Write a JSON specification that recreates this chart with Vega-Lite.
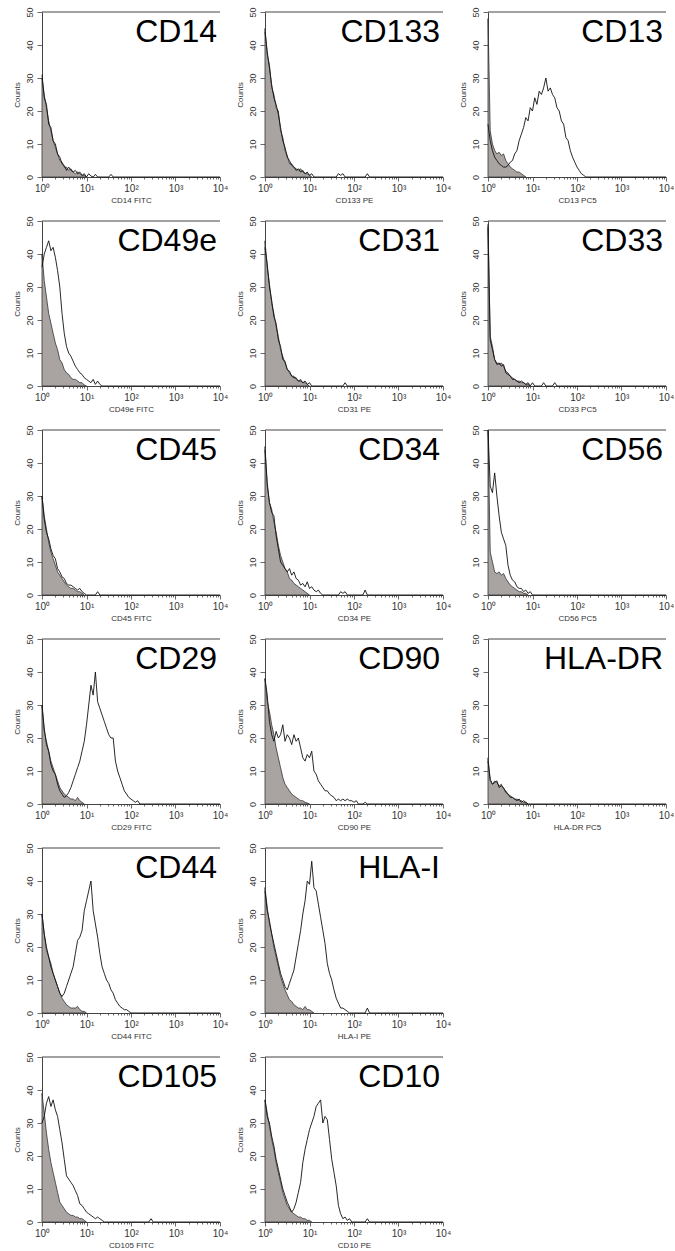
{
"$schema":"https://vega.github.io/schema/vega-lite/v6.json",
"background":"white",
"padding":{"left":13,"top":6,"right":0,"bottom":0},
"columns":3,
"spacing":{"row":44,"column":45},
"bounds":"flush",
"datasets":{
"CD14c":[{"x":1,"y":30},{"x":1.122,"y":25},{"x":1.259,"y":21},{"x":1.413,"y":17},{"x":1.585,"y":14},{"x":1.778,"y":11},{"x":1.995,"y":9},{"x":2.239,"y":7},{"x":2.512,"y":5},{"x":2.818,"y":4.5},{"x":3.162,"y":3},{"x":3.548,"y":3},{"x":3.981,"y":2},{"x":4.467,"y":2.5},{"x":5.012,"y":1.5},{"x":5.623,"y":1},{"x":6.31,"y":1.5},{"x":7.079,"y":1},{"x":7.943,"y":0.5},{"x":8.913,"y":0.5},{"x":10,"y":0}],
"CD14m":[{"x":1,"y":31},{"x":1.122,"y":24},{"x":1.259,"y":22},{"x":1.413,"y":16},{"x":1.585,"y":15},{"x":1.778,"y":11},{"x":1.995,"y":10},{"x":2.239,"y":7},{"x":2.512,"y":6},{"x":2.818,"y":4},{"x":3.162,"y":3.5},{"x":3.548,"y":2},{"x":3.981,"y":3},{"x":4.467,"y":2},{"x":5.012,"y":1.5},{"x":5.623,"y":2},{"x":6.31,"y":1},{"x":7.079,"y":1.5},{"x":7.943,"y":0.5},{"x":8.913,"y":1},{"x":10,"y":0},{"x":11.22,"y":1},{"x":12.59,"y":0.3},{"x":14.13,"y":0},{"x":15.85,"y":0.8},{"x":17.78,"y":0},{"x":31.62,"y":0},{"x":35.48,"y":0.8},{"x":39.81,"y":0},{"x":10000,"y":0}],
"CD133c":[{"x":1,"y":45},{"x":1.122,"y":37},{"x":1.259,"y":34},{"x":1.413,"y":27},{"x":1.585,"y":25},{"x":1.778,"y":21},{"x":1.995,"y":20},{"x":2.239,"y":14},{"x":2.512,"y":12},{"x":2.818,"y":8},{"x":3.162,"y":6.5},{"x":3.548,"y":4},{"x":3.981,"y":4},{"x":4.467,"y":3},{"x":5.012,"y":2.5},{"x":5.623,"y":2},{"x":6.31,"y":2.5},{"x":7.079,"y":1.5},{"x":7.943,"y":1},{"x":8.913,"y":1},{"x":10,"y":0.5},{"x":11.22,"y":0}],
"CD133m":[{"x":1,"y":44},{"x":1.122,"y":38},{"x":1.259,"y":33},{"x":1.413,"y":28},{"x":1.585,"y":24},{"x":1.778,"y":22},{"x":1.995,"y":19},{"x":2.239,"y":15},{"x":2.512,"y":11},{"x":2.818,"y":9},{"x":3.162,"y":6},{"x":3.548,"y":5},{"x":3.981,"y":3.5},{"x":4.467,"y":3},{"x":5.012,"y":2},{"x":5.623,"y":2.5},{"x":6.31,"y":1.5},{"x":7.079,"y":2},{"x":7.943,"y":1},{"x":8.913,"y":1.5},{"x":10,"y":0.5},{"x":11.22,"y":1},{"x":12.59,"y":0},{"x":39.81,"y":0},{"x":44.67,"y":1},{"x":50.12,"y":0.5},{"x":56.23,"y":1},{"x":63.1,"y":0},{"x":177.8,"y":0},{"x":199.5,"y":1},{"x":223.9,"y":0},{"x":10000,"y":0}],
"CD13c":[{"x":1,"y":48},{"x":1.122,"y":14},{"x":1.259,"y":10},{"x":1.413,"y":8},{"x":1.585,"y":7},{"x":1.778,"y":7.5},{"x":1.995,"y":6.5},{"x":2.239,"y":7},{"x":2.512,"y":5},{"x":2.818,"y":4},{"x":3.162,"y":3},{"x":3.548,"y":2.5},{"x":3.981,"y":2},{"x":4.467,"y":1.5},{"x":5.012,"y":1.5},{"x":5.623,"y":1},{"x":6.31,"y":0.5},{"x":7.079,"y":0}],
"CD13m":[{"x":1,"y":16},{"x":1.122,"y":11},{"x":1.259,"y":8},{"x":1.413,"y":6},{"x":1.585,"y":5},{"x":1.778,"y":4},{"x":1.995,"y":3.5},{"x":2.239,"y":3},{"x":2.512,"y":3},{"x":2.818,"y":3.5},{"x":3.162,"y":4.5},{"x":3.548,"y":5},{"x":3.981,"y":7},{"x":4.467,"y":8},{"x":5.012,"y":11},{"x":5.623,"y":13},{"x":6.31,"y":15},{"x":7.079,"y":18},{"x":7.943,"y":17},{"x":8.913,"y":21},{"x":10,"y":20},{"x":11.22,"y":24},{"x":12.59,"y":22},{"x":14.13,"y":26},{"x":15.85,"y":25},{"x":17.78,"y":27},{"x":19.95,"y":30},{"x":22.39,"y":26},{"x":25.12,"y":27},{"x":28.18,"y":25},{"x":31.62,"y":24},{"x":35.48,"y":21},{"x":39.81,"y":20},{"x":44.67,"y":17},{"x":50.12,"y":16},{"x":56.23,"y":12},{"x":63.1,"y":11},{"x":70.79,"y":8},{"x":79.43,"y":6},{"x":89.13,"y":4.5},{"x":100,"y":3},{"x":112.2,"y":2},{"x":125.9,"y":1},{"x":141.3,"y":0.5},{"x":158.5,"y":0},{"x":10000,"y":0}],
"CD49ec":[{"x":1,"y":40},{"x":1.122,"y":32},{"x":1.259,"y":27},{"x":1.413,"y":22},{"x":1.585,"y":19},{"x":1.778,"y":16},{"x":1.995,"y":13},{"x":2.239,"y":11},{"x":2.512,"y":8},{"x":2.818,"y":7},{"x":3.162,"y":5},{"x":3.548,"y":4},{"x":3.981,"y":3.5},{"x":4.467,"y":2.5},{"x":5.012,"y":2},{"x":5.623,"y":2},{"x":6.31,"y":1.5},{"x":7.079,"y":1},{"x":7.943,"y":1},{"x":8.913,"y":0.3},{"x":10,"y":0}],
"CD49em":[{"x":1,"y":36},{"x":1.122,"y":40},{"x":1.259,"y":42},{"x":1.413,"y":44},{"x":1.585,"y":41},{"x":1.778,"y":42},{"x":1.995,"y":39},{"x":2.239,"y":35},{"x":2.512,"y":30},{"x":2.818,"y":22},{"x":3.162,"y":16},{"x":3.548,"y":12},{"x":3.981,"y":10},{"x":4.467,"y":9},{"x":5.012,"y":7.5},{"x":5.623,"y":6},{"x":6.31,"y":5},{"x":7.079,"y":4},{"x":7.943,"y":3.5},{"x":8.913,"y":2.5},{"x":10,"y":2},{"x":11.22,"y":1.5},{"x":12.59,"y":1},{"x":14.13,"y":2},{"x":15.85,"y":0.5},{"x":17.78,"y":1.5},{"x":19.95,"y":0.5},{"x":22.39,"y":0},{"x":10000,"y":0}],
"CD31c":[{"x":1,"y":44},{"x":1.122,"y":36},{"x":1.259,"y":31},{"x":1.413,"y":25},{"x":1.585,"y":22},{"x":1.778,"y":18},{"x":1.995,"y":15},{"x":2.239,"y":11},{"x":2.512,"y":9},{"x":2.818,"y":7},{"x":3.162,"y":5},{"x":3.548,"y":4},{"x":3.981,"y":3},{"x":4.467,"y":3},{"x":5.012,"y":2},{"x":5.623,"y":1.5},{"x":6.31,"y":2},{"x":7.079,"y":1},{"x":7.943,"y":1},{"x":8.913,"y":0.5},{"x":10,"y":0}],
"CD31m":[{"x":1,"y":42},{"x":1.122,"y":37},{"x":1.259,"y":30},{"x":1.413,"y":26},{"x":1.585,"y":21},{"x":1.778,"y":19},{"x":1.995,"y":14},{"x":2.239,"y":12},{"x":2.512,"y":8},{"x":2.818,"y":7.5},{"x":3.162,"y":5},{"x":3.548,"y":4.5},{"x":3.981,"y":3},{"x":4.467,"y":2.5},{"x":5.012,"y":2.5},{"x":5.623,"y":1.5},{"x":6.31,"y":1.5},{"x":7.079,"y":1},{"x":7.943,"y":1.5},{"x":8.913,"y":0.5},{"x":10,"y":1},{"x":11.22,"y":0},{"x":56.23,"y":0},{"x":63.1,"y":1},{"x":70.79,"y":0},{"x":10000,"y":0}],
"CD33c":[{"x":1,"y":49},{"x":1.122,"y":15},{"x":1.259,"y":12},{"x":1.413,"y":8},{"x":1.585,"y":7},{"x":1.778,"y":6.5},{"x":1.995,"y":7},{"x":2.239,"y":6},{"x":2.512,"y":4.5},{"x":2.818,"y":4},{"x":3.162,"y":3},{"x":3.548,"y":2.5},{"x":3.981,"y":2},{"x":4.467,"y":1.5},{"x":5.012,"y":1.5},{"x":5.623,"y":1},{"x":6.31,"y":1},{"x":7.079,"y":0.5},{"x":7.943,"y":0.5},{"x":8.913,"y":0}],
"CD33m":[{"x":1,"y":48},{"x":1.122,"y":14},{"x":1.259,"y":11},{"x":1.413,"y":8},{"x":1.585,"y":6.5},{"x":1.778,"y":7},{"x":1.995,"y":6},{"x":2.239,"y":6.5},{"x":2.512,"y":4},{"x":2.818,"y":3.5},{"x":3.162,"y":3},{"x":3.548,"y":2},{"x":3.981,"y":2},{"x":4.467,"y":1.5},{"x":5.012,"y":1},{"x":5.623,"y":1.5},{"x":6.31,"y":1},{"x":7.079,"y":0.5},{"x":7.943,"y":1},{"x":8.913,"y":0},{"x":10,"y":1},{"x":11.22,"y":0},{"x":15.85,"y":0},{"x":17.78,"y":1},{"x":19.95,"y":0},{"x":28.18,"y":0},{"x":31.62,"y":1},{"x":35.48,"y":0},{"x":10000,"y":0}],
"CD45c":[{"x":1,"y":30},{"x":1.122,"y":24},{"x":1.259,"y":20},{"x":1.413,"y":16},{"x":1.585,"y":13},{"x":1.778,"y":11},{"x":1.995,"y":9},{"x":2.239,"y":7},{"x":2.512,"y":6},{"x":2.818,"y":5},{"x":3.162,"y":4},{"x":3.548,"y":3},{"x":3.981,"y":2.5},{"x":4.467,"y":2},{"x":5.012,"y":2},{"x":5.623,"y":1.5},{"x":6.31,"y":1},{"x":7.079,"y":1},{"x":7.943,"y":0.5},{"x":8.913,"y":0}],
"CD45m":[{"x":1,"y":30},{"x":1.122,"y":23},{"x":1.259,"y":19},{"x":1.413,"y":17},{"x":1.585,"y":14},{"x":1.778,"y":12},{"x":1.995,"y":11},{"x":2.239,"y":8},{"x":2.512,"y":7},{"x":2.818,"y":5.5},{"x":3.162,"y":5},{"x":3.548,"y":3.5},{"x":3.981,"y":3},{"x":4.467,"y":3},{"x":5.012,"y":2.5},{"x":5.623,"y":2},{"x":6.31,"y":1.5},{"x":7.079,"y":2},{"x":7.943,"y":1},{"x":8.913,"y":0.5},{"x":10,"y":0},{"x":15.85,"y":0},{"x":17.78,"y":1},{"x":19.95,"y":0},{"x":10000,"y":0}],
"CD34c":[{"x":1,"y":45},{"x":1.122,"y":33},{"x":1.259,"y":28},{"x":1.413,"y":26},{"x":1.585,"y":22},{"x":1.778,"y":19},{"x":1.995,"y":15},{"x":2.239,"y":12},{"x":2.512,"y":10},{"x":2.818,"y":8},{"x":3.162,"y":7},{"x":3.548,"y":5},{"x":3.981,"y":4.5},{"x":4.467,"y":3.5},{"x":5.012,"y":3},{"x":5.623,"y":2.5},{"x":6.31,"y":2},{"x":7.079,"y":1.5},{"x":7.943,"y":1},{"x":8.913,"y":0.5},{"x":10,"y":0}],
"CD34m":[{"x":1,"y":44},{"x":1.122,"y":34},{"x":1.259,"y":28},{"x":1.413,"y":25},{"x":1.585,"y":24},{"x":1.778,"y":18},{"x":1.995,"y":14},{"x":2.239,"y":10},{"x":2.512,"y":9},{"x":2.818,"y":8},{"x":3.162,"y":7},{"x":3.548,"y":8},{"x":3.981,"y":6},{"x":4.467,"y":7},{"x":5.012,"y":5},{"x":5.623,"y":4.5},{"x":6.31,"y":3},{"x":7.079,"y":3.5},{"x":7.943,"y":2.5},{"x":8.913,"y":4},{"x":10,"y":2},{"x":11.22,"y":2.5},{"x":12.59,"y":1.5},{"x":14.13,"y":1},{"x":15.85,"y":1.5},{"x":17.78,"y":0.5},{"x":19.95,"y":0},{"x":44.67,"y":0},{"x":50.12,"y":1},{"x":56.23,"y":0.5},{"x":63.1,"y":1},{"x":70.79,"y":0},{"x":158.5,"y":0},{"x":177.8,"y":1.5},{"x":199.5,"y":0},{"x":10000,"y":0}],
"CD56c":[{"x":1,"y":50},{"x":1.122,"y":13},{"x":1.259,"y":10},{"x":1.413,"y":7},{"x":1.585,"y":6.5},{"x":1.778,"y":7},{"x":1.995,"y":6},{"x":2.239,"y":6.5},{"x":2.512,"y":5},{"x":2.818,"y":4},{"x":3.162,"y":3},{"x":3.548,"y":2.5},{"x":3.981,"y":2},{"x":4.467,"y":1.5},{"x":5.012,"y":1},{"x":5.623,"y":1},{"x":6.31,"y":0.5},{"x":7.079,"y":0.5},{"x":7.943,"y":0}],
"CD56m":[{"x":1,"y":50},{"x":1.122,"y":33},{"x":1.259,"y":31},{"x":1.413,"y":37},{"x":1.585,"y":30},{"x":1.778,"y":24},{"x":1.995,"y":19},{"x":2.239,"y":17},{"x":2.512,"y":15},{"x":2.818,"y":9},{"x":3.162,"y":6},{"x":3.548,"y":4.5},{"x":3.981,"y":4},{"x":4.467,"y":2.5},{"x":5.012,"y":2},{"x":5.623,"y":2},{"x":6.31,"y":1},{"x":7.079,"y":1.5},{"x":7.943,"y":0.5},{"x":8.913,"y":1},{"x":10,"y":0},{"x":10000,"y":0}],
"CD29c":[{"x":1,"y":30},{"x":1.122,"y":22},{"x":1.259,"y":19},{"x":1.413,"y":16},{"x":1.585,"y":13},{"x":1.778,"y":11},{"x":1.995,"y":9},{"x":2.239,"y":7},{"x":2.512,"y":5},{"x":2.818,"y":4},{"x":3.162,"y":3},{"x":3.548,"y":2.5},{"x":3.981,"y":2},{"x":4.467,"y":1.5},{"x":5.012,"y":1.5},{"x":5.623,"y":1},{"x":6.31,"y":2},{"x":7.079,"y":1},{"x":7.943,"y":0.5},{"x":8.913,"y":0}],
"CD29m":[{"x":1,"y":30},{"x":1.122,"y":23},{"x":1.259,"y":18},{"x":1.413,"y":16},{"x":1.585,"y":12},{"x":1.778,"y":10},{"x":1.995,"y":9},{"x":2.239,"y":6},{"x":2.512,"y":4},{"x":2.818,"y":3},{"x":3.162,"y":2},{"x":3.548,"y":2.5},{"x":3.981,"y":3.5},{"x":4.467,"y":5},{"x":5.012,"y":7},{"x":5.623,"y":9},{"x":6.31,"y":11},{"x":7.079,"y":13},{"x":7.943,"y":16},{"x":8.913,"y":19},{"x":10,"y":24},{"x":11.22,"y":30},{"x":12.59,"y":36},{"x":14.13,"y":33},{"x":15.85,"y":40},{"x":17.78,"y":31},{"x":19.95,"y":29},{"x":22.39,"y":27},{"x":25.12,"y":25},{"x":28.18,"y":23},{"x":31.62,"y":21},{"x":35.48,"y":20},{"x":39.81,"y":20},{"x":44.67,"y":13},{"x":50.12,"y":10},{"x":56.23,"y":8},{"x":63.1,"y":6},{"x":70.79,"y":4},{"x":79.43,"y":3},{"x":89.13,"y":2},{"x":100,"y":1.5},{"x":112.2,"y":1},{"x":125.9,"y":0.5},{"x":141.3,"y":1},{"x":158.5,"y":0},{"x":10000,"y":0}],
"CD90c":[{"x":1,"y":38},{"x":1.122,"y":31},{"x":1.259,"y":28},{"x":1.413,"y":24},{"x":1.585,"y":21},{"x":1.778,"y":17},{"x":1.995,"y":14},{"x":2.239,"y":11},{"x":2.512,"y":8},{"x":2.818,"y":6},{"x":3.162,"y":5},{"x":3.548,"y":4},{"x":3.981,"y":3},{"x":4.467,"y":2.5},{"x":5.012,"y":2},{"x":5.623,"y":1.5},{"x":6.31,"y":1},{"x":7.079,"y":1},{"x":7.943,"y":0.5},{"x":8.913,"y":0.3},{"x":10,"y":0}],
"CD90m":[{"x":1,"y":38},{"x":1.122,"y":33},{"x":1.259,"y":25},{"x":1.413,"y":21},{"x":1.585,"y":19},{"x":1.778,"y":22},{"x":1.995,"y":20},{"x":2.239,"y":21},{"x":2.512,"y":24},{"x":2.818,"y":19},{"x":3.162,"y":21},{"x":3.548,"y":20},{"x":3.981,"y":18},{"x":4.467,"y":21},{"x":5.012,"y":19},{"x":5.623,"y":20},{"x":6.31,"y":17},{"x":7.079,"y":14},{"x":7.943,"y":13},{"x":8.913,"y":15},{"x":10,"y":14},{"x":11.22,"y":16},{"x":12.59,"y":10},{"x":14.13,"y":9},{"x":15.85,"y":7},{"x":17.78,"y":6},{"x":19.95,"y":5},{"x":22.39,"y":4},{"x":25.12,"y":4},{"x":28.18,"y":3},{"x":31.62,"y":2.5},{"x":35.48,"y":2},{"x":39.81,"y":1},{"x":44.67,"y":1.5},{"x":50.12,"y":1},{"x":56.23,"y":1.5},{"x":63.1,"y":1},{"x":70.79,"y":1.5},{"x":79.43,"y":1},{"x":89.13,"y":1},{"x":100,"y":0.5},{"x":112.2,"y":1},{"x":125.9,"y":0},{"x":158.5,"y":0},{"x":177.8,"y":0.5},{"x":199.5,"y":0},{"x":10000,"y":0}],
"HLADRc":[{"x":1,"y":14},{"x":1.122,"y":7},{"x":1.259,"y":6},{"x":1.413,"y":7},{"x":1.585,"y":6.5},{"x":1.778,"y":5.5},{"x":1.995,"y":6},{"x":2.239,"y":4.5},{"x":2.512,"y":4},{"x":2.818,"y":3},{"x":3.162,"y":2.5},{"x":3.548,"y":2},{"x":3.981,"y":1.5},{"x":4.467,"y":1.5},{"x":5.012,"y":1},{"x":5.623,"y":1},{"x":6.31,"y":0.5},{"x":7.079,"y":0.5},{"x":7.943,"y":0}],
"HLADRm":[{"x":1,"y":13},{"x":1.122,"y":7.5},{"x":1.259,"y":6},{"x":1.413,"y":6.5},{"x":1.585,"y":7},{"x":1.778,"y":5},{"x":1.995,"y":5.5},{"x":2.239,"y":5},{"x":2.512,"y":3.5},{"x":2.818,"y":3},{"x":3.162,"y":2},{"x":3.548,"y":2},{"x":3.981,"y":1.5},{"x":4.467,"y":1},{"x":5.012,"y":1.5},{"x":5.623,"y":0.5},{"x":6.31,"y":1},{"x":7.079,"y":0.5},{"x":7.943,"y":0},{"x":10000,"y":0}],
"CD44c":[{"x":1,"y":30},{"x":1.122,"y":24},{"x":1.259,"y":19},{"x":1.413,"y":17},{"x":1.585,"y":15},{"x":1.778,"y":12},{"x":1.995,"y":10},{"x":2.239,"y":8},{"x":2.512,"y":6},{"x":2.818,"y":4.5},{"x":3.162,"y":3.5},{"x":3.548,"y":2.5},{"x":3.981,"y":2},{"x":4.467,"y":1.5},{"x":5.012,"y":1.5},{"x":5.623,"y":1.5},{"x":6.31,"y":2},{"x":7.079,"y":1},{"x":7.943,"y":0.5},{"x":8.913,"y":0.5},{"x":10,"y":0}],
"CD44m":[{"x":1,"y":30},{"x":1.122,"y":24},{"x":1.259,"y":20},{"x":1.413,"y":17},{"x":1.585,"y":14},{"x":1.778,"y":12},{"x":1.995,"y":10},{"x":2.239,"y":8},{"x":2.512,"y":6},{"x":2.818,"y":5},{"x":3.162,"y":6},{"x":3.548,"y":8},{"x":3.981,"y":10},{"x":4.467,"y":12},{"x":5.012,"y":14},{"x":5.623,"y":18},{"x":6.31,"y":22},{"x":7.079,"y":23},{"x":7.943,"y":25},{"x":8.913,"y":31},{"x":10,"y":34},{"x":11.22,"y":37},{"x":12.59,"y":40},{"x":14.13,"y":31},{"x":15.85,"y":27},{"x":17.78,"y":23},{"x":19.95,"y":18},{"x":22.39,"y":14},{"x":25.12,"y":12},{"x":28.18,"y":10},{"x":31.62,"y":9},{"x":35.48,"y":7},{"x":39.81,"y":6},{"x":44.67,"y":4},{"x":50.12,"y":3},{"x":56.23,"y":2},{"x":63.1,"y":1.5},{"x":70.79,"y":1},{"x":79.43,"y":1},{"x":89.13,"y":0.5},{"x":100,"y":0},{"x":10000,"y":0}],
"HLAIc":[{"x":1,"y":38},{"x":1.122,"y":32},{"x":1.259,"y":27},{"x":1.413,"y":24},{"x":1.585,"y":20},{"x":1.778,"y":17},{"x":1.995,"y":14},{"x":2.239,"y":11},{"x":2.512,"y":9},{"x":2.818,"y":7},{"x":3.162,"y":5.5},{"x":3.548,"y":4},{"x":3.981,"y":3.5},{"x":4.467,"y":2.5},{"x":5.012,"y":2},{"x":5.623,"y":1.5},{"x":6.31,"y":1.5},{"x":7.079,"y":1},{"x":7.943,"y":2},{"x":8.913,"y":1},{"x":10,"y":1},{"x":11.22,"y":0.5},{"x":12.59,"y":0}],
"HLAIm":[{"x":1,"y":37},{"x":1.122,"y":31},{"x":1.259,"y":28},{"x":1.413,"y":24},{"x":1.585,"y":21},{"x":1.778,"y":18},{"x":1.995,"y":15},{"x":2.239,"y":12},{"x":2.512,"y":10},{"x":2.818,"y":8},{"x":3.162,"y":7},{"x":3.548,"y":9},{"x":3.981,"y":11},{"x":4.467,"y":13},{"x":5.012,"y":17},{"x":5.623,"y":21},{"x":6.31,"y":25},{"x":7.079,"y":30},{"x":7.943,"y":34},{"x":8.913,"y":40},{"x":10,"y":39},{"x":11.22,"y":46},{"x":12.59,"y":38},{"x":14.13,"y":37},{"x":15.85,"y":33},{"x":17.78,"y":29},{"x":19.95,"y":25},{"x":22.39,"y":21},{"x":25.12,"y":15},{"x":28.18,"y":12},{"x":31.62,"y":10},{"x":35.48,"y":7},{"x":39.81,"y":4.5},{"x":44.67,"y":3},{"x":50.12,"y":1.5},{"x":56.23,"y":1.5},{"x":63.1,"y":1},{"x":70.79,"y":0.5},{"x":79.43,"y":0},{"x":177.8,"y":0},{"x":199.5,"y":1.5},{"x":223.9,"y":0},{"x":10000,"y":0}],
"CD105c":[{"x":1,"y":39},{"x":1.122,"y":33},{"x":1.259,"y":27},{"x":1.413,"y":22},{"x":1.585,"y":18},{"x":1.778,"y":15},{"x":1.995,"y":12},{"x":2.239,"y":9},{"x":2.512,"y":6},{"x":2.818,"y":5},{"x":3.162,"y":4},{"x":3.548,"y":3},{"x":3.981,"y":2.5},{"x":4.467,"y":2},{"x":5.012,"y":2},{"x":5.623,"y":1.5},{"x":6.31,"y":1.5},{"x":7.079,"y":1},{"x":7.943,"y":1},{"x":8.913,"y":0.5},{"x":10,"y":0}],
"CD105m":[{"x":1,"y":30},{"x":1.122,"y":32},{"x":1.259,"y":36},{"x":1.413,"y":38},{"x":1.585,"y":35},{"x":1.778,"y":37},{"x":1.995,"y":34},{"x":2.239,"y":32},{"x":2.512,"y":28},{"x":2.818,"y":24},{"x":3.162,"y":19},{"x":3.548,"y":14},{"x":3.981,"y":13},{"x":4.467,"y":12},{"x":5.012,"y":11},{"x":5.623,"y":9.5},{"x":6.31,"y":8},{"x":7.079,"y":5.5},{"x":7.943,"y":5},{"x":8.913,"y":4},{"x":10,"y":3},{"x":11.22,"y":2.5},{"x":12.59,"y":2},{"x":14.13,"y":1.5},{"x":15.85,"y":1},{"x":17.78,"y":1.5},{"x":19.95,"y":1},{"x":22.39,"y":0.5},{"x":25.12,"y":0},{"x":251.2,"y":0},{"x":281.8,"y":1},{"x":316.2,"y":0},{"x":10000,"y":0}],
"CD10c":[{"x":1,"y":37},{"x":1.122,"y":33},{"x":1.259,"y":29},{"x":1.413,"y":25},{"x":1.585,"y":22},{"x":1.778,"y":18},{"x":1.995,"y":15},{"x":2.239,"y":12},{"x":2.512,"y":9},{"x":2.818,"y":7},{"x":3.162,"y":5},{"x":3.548,"y":4},{"x":3.981,"y":3},{"x":4.467,"y":2.5},{"x":5.012,"y":2},{"x":5.623,"y":1.5},{"x":6.31,"y":1.5},{"x":7.079,"y":1},{"x":7.943,"y":1},{"x":8.913,"y":0.5},{"x":10,"y":0.5},{"x":11.22,"y":0}],
"CD10m":[{"x":1,"y":37},{"x":1.122,"y":32},{"x":1.259,"y":30},{"x":1.413,"y":26},{"x":1.585,"y":23},{"x":1.778,"y":19},{"x":1.995,"y":16},{"x":2.239,"y":13},{"x":2.512,"y":10},{"x":2.818,"y":8},{"x":3.162,"y":6},{"x":3.548,"y":4.5},{"x":3.981,"y":3},{"x":4.467,"y":4},{"x":5.012,"y":6},{"x":5.623,"y":9},{"x":6.31,"y":12},{"x":7.079,"y":18},{"x":7.943,"y":22},{"x":8.913,"y":25},{"x":10,"y":28},{"x":11.22,"y":30},{"x":12.59,"y":32},{"x":14.13,"y":35},{"x":15.85,"y":36},{"x":17.78,"y":37},{"x":19.95,"y":30},{"x":22.39,"y":32},{"x":25.12,"y":31},{"x":28.18,"y":25},{"x":31.62,"y":19},{"x":35.48,"y":15},{"x":39.81,"y":11},{"x":44.67,"y":5},{"x":50.12,"y":2.5},{"x":56.23,"y":1},{"x":63.1,"y":1.5},{"x":70.79,"y":0.5},{"x":79.43,"y":1},{"x":89.13,"y":0},{"x":177.8,"y":0},{"x":199.5,"y":1},{"x":223.9,"y":0},{"x":10000,"y":0}]
},
"concat":[
{"width":178,"height":165,"layer":[
{"data":{"name":"CD14c"},"mark":{"type":"area","color":"#a9a4a1","stroke":"#333333","strokeWidth":0.8},"encoding":{"x":{"field":"x","type":"quantitative","scale":{"type":"log","domain":[1,10000]},"axis":{"title":"CD14 FITC","tickSize":{"condition":{"test":"indexof([1,10,100,1000,10000],datum.value)>=0","value":4},"value":2}}},"y":{"field":"y","type":"quantitative","scale":{"domain":[0,50]},"axis":{"title":"Counts","tickSize":{"condition":{"test":"datum.value%10==0","value":5},"value":2.5}}}}},
{"data":{"name":"CD14m"},"mark":{"type":"line","color":"#111111","strokeWidth":0.9},"encoding":{"x":{"field":"x","type":"quantitative","scale":{"type":"log","domain":[1,10000]}},"y":{"field":"y","type":"quantitative","scale":{"domain":[0,50]}}}},
{"data":{"values":[{}]},"mark":{"type":"rule","color":"#444444","strokeWidth":1},"encoding":{"y":{"datum":50,"type":"quantitative","scale":{"domain":[0,50]}}}},
{"data":{"values":[{}]},"mark":{"type":"text","text":"CD14","font":"Liberation Sans","fontSize":32,"align":"right","baseline":"alphabetic","dx":-3,"dy":30,"color":"#000000"},"encoding":{"x":{"datum":10000,"type":"quantitative","scale":{"type":"log","domain":[1,10000]}},"y":{"datum":50,"type":"quantitative","scale":{"domain":[0,50]}}}}
]},
{"width":178,"height":165,"layer":[
{"data":{"name":"CD133c"},"mark":{"type":"area","color":"#a9a4a1","stroke":"#333333","strokeWidth":0.8},"encoding":{"x":{"field":"x","type":"quantitative","scale":{"type":"log","domain":[1,10000]},"axis":{"title":"CD133 PE","tickSize":{"condition":{"test":"indexof([1,10,100,1000,10000],datum.value)>=0","value":4},"value":2}}},"y":{"field":"y","type":"quantitative","scale":{"domain":[0,50]},"axis":{"title":"Counts","tickSize":{"condition":{"test":"datum.value%10==0","value":5},"value":2.5}}}}},
{"data":{"name":"CD133m"},"mark":{"type":"line","color":"#111111","strokeWidth":0.9},"encoding":{"x":{"field":"x","type":"quantitative","scale":{"type":"log","domain":[1,10000]}},"y":{"field":"y","type":"quantitative","scale":{"domain":[0,50]}}}},
{"data":{"values":[{}]},"mark":{"type":"rule","color":"#444444","strokeWidth":1},"encoding":{"y":{"datum":50,"type":"quantitative","scale":{"domain":[0,50]}}}},
{"data":{"values":[{}]},"mark":{"type":"text","text":"CD133","font":"Liberation Sans","fontSize":32,"align":"right","baseline":"alphabetic","dx":-3,"dy":30,"color":"#000000"},"encoding":{"x":{"datum":10000,"type":"quantitative","scale":{"type":"log","domain":[1,10000]}},"y":{"datum":50,"type":"quantitative","scale":{"domain":[0,50]}}}}
]},
{"width":178,"height":165,"layer":[
{"data":{"name":"CD13c"},"mark":{"type":"area","color":"#a9a4a1","stroke":"#333333","strokeWidth":0.8},"encoding":{"x":{"field":"x","type":"quantitative","scale":{"type":"log","domain":[1,10000]},"axis":{"title":"CD13 PC5","tickSize":{"condition":{"test":"indexof([1,10,100,1000,10000],datum.value)>=0","value":4},"value":2}}},"y":{"field":"y","type":"quantitative","scale":{"domain":[0,50]},"axis":{"title":"Counts","tickSize":{"condition":{"test":"datum.value%10==0","value":5},"value":2.5}}}}},
{"data":{"name":"CD13m"},"mark":{"type":"line","color":"#111111","strokeWidth":0.9},"encoding":{"x":{"field":"x","type":"quantitative","scale":{"type":"log","domain":[1,10000]}},"y":{"field":"y","type":"quantitative","scale":{"domain":[0,50]}}}},
{"data":{"values":[{}]},"mark":{"type":"rule","color":"#444444","strokeWidth":1},"encoding":{"y":{"datum":50,"type":"quantitative","scale":{"domain":[0,50]}}}},
{"data":{"values":[{}]},"mark":{"type":"text","text":"CD13","font":"Liberation Sans","fontSize":32,"align":"right","baseline":"alphabetic","dx":-3,"dy":30,"color":"#000000"},"encoding":{"x":{"datum":10000,"type":"quantitative","scale":{"type":"log","domain":[1,10000]}},"y":{"datum":50,"type":"quantitative","scale":{"domain":[0,50]}}}}
]},
{"width":178,"height":165,"layer":[
{"data":{"name":"CD49ec"},"mark":{"type":"area","color":"#a9a4a1","stroke":"#333333","strokeWidth":0.8},"encoding":{"x":{"field":"x","type":"quantitative","scale":{"type":"log","domain":[1,10000]},"axis":{"title":"CD49e FITC","tickSize":{"condition":{"test":"indexof([1,10,100,1000,10000],datum.value)>=0","value":4},"value":2}}},"y":{"field":"y","type":"quantitative","scale":{"domain":[0,50]},"axis":{"title":"Counts","tickSize":{"condition":{"test":"datum.value%10==0","value":5},"value":2.5}}}}},
{"data":{"name":"CD49em"},"mark":{"type":"line","color":"#111111","strokeWidth":0.9},"encoding":{"x":{"field":"x","type":"quantitative","scale":{"type":"log","domain":[1,10000]}},"y":{"field":"y","type":"quantitative","scale":{"domain":[0,50]}}}},
{"data":{"values":[{}]},"mark":{"type":"rule","color":"#444444","strokeWidth":1},"encoding":{"y":{"datum":50,"type":"quantitative","scale":{"domain":[0,50]}}}},
{"data":{"values":[{}]},"mark":{"type":"text","text":"CD49e","font":"Liberation Sans","fontSize":32,"align":"right","baseline":"alphabetic","dx":-3,"dy":30,"color":"#000000"},"encoding":{"x":{"datum":10000,"type":"quantitative","scale":{"type":"log","domain":[1,10000]}},"y":{"datum":50,"type":"quantitative","scale":{"domain":[0,50]}}}}
]},
{"width":178,"height":165,"layer":[
{"data":{"name":"CD31c"},"mark":{"type":"area","color":"#a9a4a1","stroke":"#333333","strokeWidth":0.8},"encoding":{"x":{"field":"x","type":"quantitative","scale":{"type":"log","domain":[1,10000]},"axis":{"title":"CD31 PE","tickSize":{"condition":{"test":"indexof([1,10,100,1000,10000],datum.value)>=0","value":4},"value":2}}},"y":{"field":"y","type":"quantitative","scale":{"domain":[0,50]},"axis":{"title":"Counts","tickSize":{"condition":{"test":"datum.value%10==0","value":5},"value":2.5}}}}},
{"data":{"name":"CD31m"},"mark":{"type":"line","color":"#111111","strokeWidth":0.9},"encoding":{"x":{"field":"x","type":"quantitative","scale":{"type":"log","domain":[1,10000]}},"y":{"field":"y","type":"quantitative","scale":{"domain":[0,50]}}}},
{"data":{"values":[{}]},"mark":{"type":"rule","color":"#444444","strokeWidth":1},"encoding":{"y":{"datum":50,"type":"quantitative","scale":{"domain":[0,50]}}}},
{"data":{"values":[{}]},"mark":{"type":"text","text":"CD31","font":"Liberation Sans","fontSize":32,"align":"right","baseline":"alphabetic","dx":-3,"dy":30,"color":"#000000"},"encoding":{"x":{"datum":10000,"type":"quantitative","scale":{"type":"log","domain":[1,10000]}},"y":{"datum":50,"type":"quantitative","scale":{"domain":[0,50]}}}}
]},
{"width":178,"height":165,"layer":[
{"data":{"name":"CD33c"},"mark":{"type":"area","color":"#a9a4a1","stroke":"#333333","strokeWidth":0.8},"encoding":{"x":{"field":"x","type":"quantitative","scale":{"type":"log","domain":[1,10000]},"axis":{"title":"CD33 PC5","tickSize":{"condition":{"test":"indexof([1,10,100,1000,10000],datum.value)>=0","value":4},"value":2}}},"y":{"field":"y","type":"quantitative","scale":{"domain":[0,50]},"axis":{"title":"Counts","tickSize":{"condition":{"test":"datum.value%10==0","value":5},"value":2.5}}}}},
{"data":{"name":"CD33m"},"mark":{"type":"line","color":"#111111","strokeWidth":0.9},"encoding":{"x":{"field":"x","type":"quantitative","scale":{"type":"log","domain":[1,10000]}},"y":{"field":"y","type":"quantitative","scale":{"domain":[0,50]}}}},
{"data":{"values":[{}]},"mark":{"type":"rule","color":"#444444","strokeWidth":1},"encoding":{"y":{"datum":50,"type":"quantitative","scale":{"domain":[0,50]}}}},
{"data":{"values":[{}]},"mark":{"type":"text","text":"CD33","font":"Liberation Sans","fontSize":32,"align":"right","baseline":"alphabetic","dx":-3,"dy":30,"color":"#000000"},"encoding":{"x":{"datum":10000,"type":"quantitative","scale":{"type":"log","domain":[1,10000]}},"y":{"datum":50,"type":"quantitative","scale":{"domain":[0,50]}}}}
]},
{"width":178,"height":165,"layer":[
{"data":{"name":"CD45c"},"mark":{"type":"area","color":"#a9a4a1","stroke":"#333333","strokeWidth":0.8},"encoding":{"x":{"field":"x","type":"quantitative","scale":{"type":"log","domain":[1,10000]},"axis":{"title":"CD45 FITC","tickSize":{"condition":{"test":"indexof([1,10,100,1000,10000],datum.value)>=0","value":4},"value":2}}},"y":{"field":"y","type":"quantitative","scale":{"domain":[0,50]},"axis":{"title":"Counts","tickSize":{"condition":{"test":"datum.value%10==0","value":5},"value":2.5}}}}},
{"data":{"name":"CD45m"},"mark":{"type":"line","color":"#111111","strokeWidth":0.9},"encoding":{"x":{"field":"x","type":"quantitative","scale":{"type":"log","domain":[1,10000]}},"y":{"field":"y","type":"quantitative","scale":{"domain":[0,50]}}}},
{"data":{"values":[{}]},"mark":{"type":"rule","color":"#444444","strokeWidth":1},"encoding":{"y":{"datum":50,"type":"quantitative","scale":{"domain":[0,50]}}}},
{"data":{"values":[{}]},"mark":{"type":"text","text":"CD45","font":"Liberation Sans","fontSize":32,"align":"right","baseline":"alphabetic","dx":-3,"dy":30,"color":"#000000"},"encoding":{"x":{"datum":10000,"type":"quantitative","scale":{"type":"log","domain":[1,10000]}},"y":{"datum":50,"type":"quantitative","scale":{"domain":[0,50]}}}}
]},
{"width":178,"height":165,"layer":[
{"data":{"name":"CD34c"},"mark":{"type":"area","color":"#a9a4a1","stroke":"#333333","strokeWidth":0.8},"encoding":{"x":{"field":"x","type":"quantitative","scale":{"type":"log","domain":[1,10000]},"axis":{"title":"CD34 PE","tickSize":{"condition":{"test":"indexof([1,10,100,1000,10000],datum.value)>=0","value":4},"value":2}}},"y":{"field":"y","type":"quantitative","scale":{"domain":[0,50]},"axis":{"title":"Counts","tickSize":{"condition":{"test":"datum.value%10==0","value":5},"value":2.5}}}}},
{"data":{"name":"CD34m"},"mark":{"type":"line","color":"#111111","strokeWidth":0.9},"encoding":{"x":{"field":"x","type":"quantitative","scale":{"type":"log","domain":[1,10000]}},"y":{"field":"y","type":"quantitative","scale":{"domain":[0,50]}}}},
{"data":{"values":[{}]},"mark":{"type":"rule","color":"#444444","strokeWidth":1},"encoding":{"y":{"datum":50,"type":"quantitative","scale":{"domain":[0,50]}}}},
{"data":{"values":[{}]},"mark":{"type":"text","text":"CD34","font":"Liberation Sans","fontSize":32,"align":"right","baseline":"alphabetic","dx":-3,"dy":30,"color":"#000000"},"encoding":{"x":{"datum":10000,"type":"quantitative","scale":{"type":"log","domain":[1,10000]}},"y":{"datum":50,"type":"quantitative","scale":{"domain":[0,50]}}}}
]},
{"width":178,"height":165,"layer":[
{"data":{"name":"CD56c"},"mark":{"type":"area","color":"#a9a4a1","stroke":"#333333","strokeWidth":0.8},"encoding":{"x":{"field":"x","type":"quantitative","scale":{"type":"log","domain":[1,10000]},"axis":{"title":"CD56 PC5","tickSize":{"condition":{"test":"indexof([1,10,100,1000,10000],datum.value)>=0","value":4},"value":2}}},"y":{"field":"y","type":"quantitative","scale":{"domain":[0,50]},"axis":{"title":"Counts","tickSize":{"condition":{"test":"datum.value%10==0","value":5},"value":2.5}}}}},
{"data":{"name":"CD56m"},"mark":{"type":"line","color":"#111111","strokeWidth":0.9},"encoding":{"x":{"field":"x","type":"quantitative","scale":{"type":"log","domain":[1,10000]}},"y":{"field":"y","type":"quantitative","scale":{"domain":[0,50]}}}},
{"data":{"values":[{}]},"mark":{"type":"rule","color":"#444444","strokeWidth":1},"encoding":{"y":{"datum":50,"type":"quantitative","scale":{"domain":[0,50]}}}},
{"data":{"values":[{}]},"mark":{"type":"text","text":"CD56","font":"Liberation Sans","fontSize":32,"align":"right","baseline":"alphabetic","dx":-3,"dy":30,"color":"#000000"},"encoding":{"x":{"datum":10000,"type":"quantitative","scale":{"type":"log","domain":[1,10000]}},"y":{"datum":50,"type":"quantitative","scale":{"domain":[0,50]}}}}
]},
{"width":178,"height":165,"layer":[
{"data":{"name":"CD29c"},"mark":{"type":"area","color":"#a9a4a1","stroke":"#333333","strokeWidth":0.8},"encoding":{"x":{"field":"x","type":"quantitative","scale":{"type":"log","domain":[1,10000]},"axis":{"title":"CD29 FITC","tickSize":{"condition":{"test":"indexof([1,10,100,1000,10000],datum.value)>=0","value":4},"value":2}}},"y":{"field":"y","type":"quantitative","scale":{"domain":[0,50]},"axis":{"title":"Counts","tickSize":{"condition":{"test":"datum.value%10==0","value":5},"value":2.5}}}}},
{"data":{"name":"CD29m"},"mark":{"type":"line","color":"#111111","strokeWidth":0.9},"encoding":{"x":{"field":"x","type":"quantitative","scale":{"type":"log","domain":[1,10000]}},"y":{"field":"y","type":"quantitative","scale":{"domain":[0,50]}}}},
{"data":{"values":[{}]},"mark":{"type":"rule","color":"#444444","strokeWidth":1},"encoding":{"y":{"datum":50,"type":"quantitative","scale":{"domain":[0,50]}}}},
{"data":{"values":[{}]},"mark":{"type":"text","text":"CD29","font":"Liberation Sans","fontSize":32,"align":"right","baseline":"alphabetic","dx":-3,"dy":30,"color":"#000000"},"encoding":{"x":{"datum":10000,"type":"quantitative","scale":{"type":"log","domain":[1,10000]}},"y":{"datum":50,"type":"quantitative","scale":{"domain":[0,50]}}}}
]},
{"width":178,"height":165,"layer":[
{"data":{"name":"CD90c"},"mark":{"type":"area","color":"#a9a4a1","stroke":"#333333","strokeWidth":0.8},"encoding":{"x":{"field":"x","type":"quantitative","scale":{"type":"log","domain":[1,10000]},"axis":{"title":"CD90 PE","tickSize":{"condition":{"test":"indexof([1,10,100,1000,10000],datum.value)>=0","value":4},"value":2}}},"y":{"field":"y","type":"quantitative","scale":{"domain":[0,50]},"axis":{"title":"Counts","tickSize":{"condition":{"test":"datum.value%10==0","value":5},"value":2.5}}}}},
{"data":{"name":"CD90m"},"mark":{"type":"line","color":"#111111","strokeWidth":0.9},"encoding":{"x":{"field":"x","type":"quantitative","scale":{"type":"log","domain":[1,10000]}},"y":{"field":"y","type":"quantitative","scale":{"domain":[0,50]}}}},
{"data":{"values":[{}]},"mark":{"type":"rule","color":"#444444","strokeWidth":1},"encoding":{"y":{"datum":50,"type":"quantitative","scale":{"domain":[0,50]}}}},
{"data":{"values":[{}]},"mark":{"type":"text","text":"CD90","font":"Liberation Sans","fontSize":32,"align":"right","baseline":"alphabetic","dx":-3,"dy":30,"color":"#000000"},"encoding":{"x":{"datum":10000,"type":"quantitative","scale":{"type":"log","domain":[1,10000]}},"y":{"datum":50,"type":"quantitative","scale":{"domain":[0,50]}}}}
]},
{"width":178,"height":165,"layer":[
{"data":{"name":"HLADRc"},"mark":{"type":"area","color":"#a9a4a1","stroke":"#333333","strokeWidth":0.8},"encoding":{"x":{"field":"x","type":"quantitative","scale":{"type":"log","domain":[1,10000]},"axis":{"title":"HLA-DR PC5","tickSize":{"condition":{"test":"indexof([1,10,100,1000,10000],datum.value)>=0","value":4},"value":2}}},"y":{"field":"y","type":"quantitative","scale":{"domain":[0,50]},"axis":{"title":"Counts","tickSize":{"condition":{"test":"datum.value%10==0","value":5},"value":2.5}}}}},
{"data":{"name":"HLADRm"},"mark":{"type":"line","color":"#111111","strokeWidth":0.9},"encoding":{"x":{"field":"x","type":"quantitative","scale":{"type":"log","domain":[1,10000]}},"y":{"field":"y","type":"quantitative","scale":{"domain":[0,50]}}}},
{"data":{"values":[{}]},"mark":{"type":"rule","color":"#444444","strokeWidth":1},"encoding":{"y":{"datum":50,"type":"quantitative","scale":{"domain":[0,50]}}}},
{"data":{"values":[{}]},"mark":{"type":"text","text":"HLA-DR","font":"Liberation Sans","fontSize":32,"align":"right","baseline":"alphabetic","dx":-3,"dy":30,"color":"#000000"},"encoding":{"x":{"datum":10000,"type":"quantitative","scale":{"type":"log","domain":[1,10000]}},"y":{"datum":50,"type":"quantitative","scale":{"domain":[0,50]}}}}
]},
{"width":178,"height":165,"layer":[
{"data":{"name":"CD44c"},"mark":{"type":"area","color":"#a9a4a1","stroke":"#333333","strokeWidth":0.8},"encoding":{"x":{"field":"x","type":"quantitative","scale":{"type":"log","domain":[1,10000]},"axis":{"title":"CD44 FITC","tickSize":{"condition":{"test":"indexof([1,10,100,1000,10000],datum.value)>=0","value":4},"value":2}}},"y":{"field":"y","type":"quantitative","scale":{"domain":[0,50]},"axis":{"title":"Counts","tickSize":{"condition":{"test":"datum.value%10==0","value":5},"value":2.5}}}}},
{"data":{"name":"CD44m"},"mark":{"type":"line","color":"#111111","strokeWidth":0.9},"encoding":{"x":{"field":"x","type":"quantitative","scale":{"type":"log","domain":[1,10000]}},"y":{"field":"y","type":"quantitative","scale":{"domain":[0,50]}}}},
{"data":{"values":[{}]},"mark":{"type":"rule","color":"#444444","strokeWidth":1},"encoding":{"y":{"datum":50,"type":"quantitative","scale":{"domain":[0,50]}}}},
{"data":{"values":[{}]},"mark":{"type":"text","text":"CD44","font":"Liberation Sans","fontSize":32,"align":"right","baseline":"alphabetic","dx":-3,"dy":30,"color":"#000000"},"encoding":{"x":{"datum":10000,"type":"quantitative","scale":{"type":"log","domain":[1,10000]}},"y":{"datum":50,"type":"quantitative","scale":{"domain":[0,50]}}}}
]},
{"width":178,"height":165,"layer":[
{"data":{"name":"HLAIc"},"mark":{"type":"area","color":"#a9a4a1","stroke":"#333333","strokeWidth":0.8},"encoding":{"x":{"field":"x","type":"quantitative","scale":{"type":"log","domain":[1,10000]},"axis":{"title":"HLA-I PE","tickSize":{"condition":{"test":"indexof([1,10,100,1000,10000],datum.value)>=0","value":4},"value":2}}},"y":{"field":"y","type":"quantitative","scale":{"domain":[0,50]},"axis":{"title":"Counts","tickSize":{"condition":{"test":"datum.value%10==0","value":5},"value":2.5}}}}},
{"data":{"name":"HLAIm"},"mark":{"type":"line","color":"#111111","strokeWidth":0.9},"encoding":{"x":{"field":"x","type":"quantitative","scale":{"type":"log","domain":[1,10000]}},"y":{"field":"y","type":"quantitative","scale":{"domain":[0,50]}}}},
{"data":{"values":[{}]},"mark":{"type":"rule","color":"#444444","strokeWidth":1},"encoding":{"y":{"datum":50,"type":"quantitative","scale":{"domain":[0,50]}}}},
{"data":{"values":[{}]},"mark":{"type":"text","text":"HLA-I","font":"Liberation Sans","fontSize":32,"align":"right","baseline":"alphabetic","dx":-3,"dy":30,"color":"#000000"},"encoding":{"x":{"datum":10000,"type":"quantitative","scale":{"type":"log","domain":[1,10000]}},"y":{"datum":50,"type":"quantitative","scale":{"domain":[0,50]}}}}
]},
{"width":178,"height":165,"data":{"values":[{}]},"mark":{"type":"text","text":""},"encoding":{}},
{"width":178,"height":165,"layer":[
{"data":{"name":"CD105c"},"mark":{"type":"area","color":"#a9a4a1","stroke":"#333333","strokeWidth":0.8},"encoding":{"x":{"field":"x","type":"quantitative","scale":{"type":"log","domain":[1,10000]},"axis":{"title":"CD105 FITC","tickSize":{"condition":{"test":"indexof([1,10,100,1000,10000],datum.value)>=0","value":4},"value":2}}},"y":{"field":"y","type":"quantitative","scale":{"domain":[0,50]},"axis":{"title":"Counts","tickSize":{"condition":{"test":"datum.value%10==0","value":5},"value":2.5}}}}},
{"data":{"name":"CD105m"},"mark":{"type":"line","color":"#111111","strokeWidth":0.9},"encoding":{"x":{"field":"x","type":"quantitative","scale":{"type":"log","domain":[1,10000]}},"y":{"field":"y","type":"quantitative","scale":{"domain":[0,50]}}}},
{"data":{"values":[{}]},"mark":{"type":"rule","color":"#444444","strokeWidth":1},"encoding":{"y":{"datum":50,"type":"quantitative","scale":{"domain":[0,50]}}}},
{"data":{"values":[{}]},"mark":{"type":"text","text":"CD105","font":"Liberation Sans","fontSize":32,"align":"right","baseline":"alphabetic","dx":-3,"dy":30,"color":"#000000"},"encoding":{"x":{"datum":10000,"type":"quantitative","scale":{"type":"log","domain":[1,10000]}},"y":{"datum":50,"type":"quantitative","scale":{"domain":[0,50]}}}}
]},
{"width":178,"height":165,"layer":[
{"data":{"name":"CD10c"},"mark":{"type":"area","color":"#a9a4a1","stroke":"#333333","strokeWidth":0.8},"encoding":{"x":{"field":"x","type":"quantitative","scale":{"type":"log","domain":[1,10000]},"axis":{"title":"CD10 PE","tickSize":{"condition":{"test":"indexof([1,10,100,1000,10000],datum.value)>=0","value":4},"value":2}}},"y":{"field":"y","type":"quantitative","scale":{"domain":[0,50]},"axis":{"title":"Counts","tickSize":{"condition":{"test":"datum.value%10==0","value":5},"value":2.5}}}}},
{"data":{"name":"CD10m"},"mark":{"type":"line","color":"#111111","strokeWidth":0.9},"encoding":{"x":{"field":"x","type":"quantitative","scale":{"type":"log","domain":[1,10000]}},"y":{"field":"y","type":"quantitative","scale":{"domain":[0,50]}}}},
{"data":{"values":[{}]},"mark":{"type":"rule","color":"#444444","strokeWidth":1},"encoding":{"y":{"datum":50,"type":"quantitative","scale":{"domain":[0,50]}}}},
{"data":{"values":[{}]},"mark":{"type":"text","text":"CD10","font":"Liberation Sans","fontSize":32,"align":"right","baseline":"alphabetic","dx":-3,"dy":30,"color":"#000000"},"encoding":{"x":{"datum":10000,"type":"quantitative","scale":{"type":"log","domain":[1,10000]}},"y":{"datum":50,"type":"quantitative","scale":{"domain":[0,50]}}}}
]}
],
"config":{
"view":{"stroke":null},
"axis":{"grid":false,"domainColor":"#444444","tickColor":"#444444","labelColor":"#333333","titleColor":"#333333","labelFont":"Liberation Sans","titleFont":"Liberation Sans","labelFontSize":9,"titleFontSize":8,"titleFontWeight":"normal","labelOverlap":false,"labelFlush":false,"labelPadding":2,"titlePadding":3,"tickWidth":0.8,"domainWidth":1,"tickSize":3},
"axisX":{"labelFontSize":10,"values":[1,2,3,4,5,6,7,8,9,10,20,30,40,50,60,70,80,90,100,200,300,400,500,600,700,800,900,1000,2000,3000,4000,5000,6000,7000,8000,9000,10000],"labelExpr":"datum.value==1?'10⁰':datum.value==10?'10¹':datum.value==100?'10²':datum.value==1000?'10³':datum.value==10000?'10⁴':''"},
"axisY":{"values":[0,2,4,6,8,10,12,14,16,18,20,22,24,26,28,30,32,34,36,38,40,42,44,46,48,50],"labelExpr":"datum.value%10==0?datum.label:''","labelAngle":-90,"labelPadding":3,"titlePadding":4}
}
}
